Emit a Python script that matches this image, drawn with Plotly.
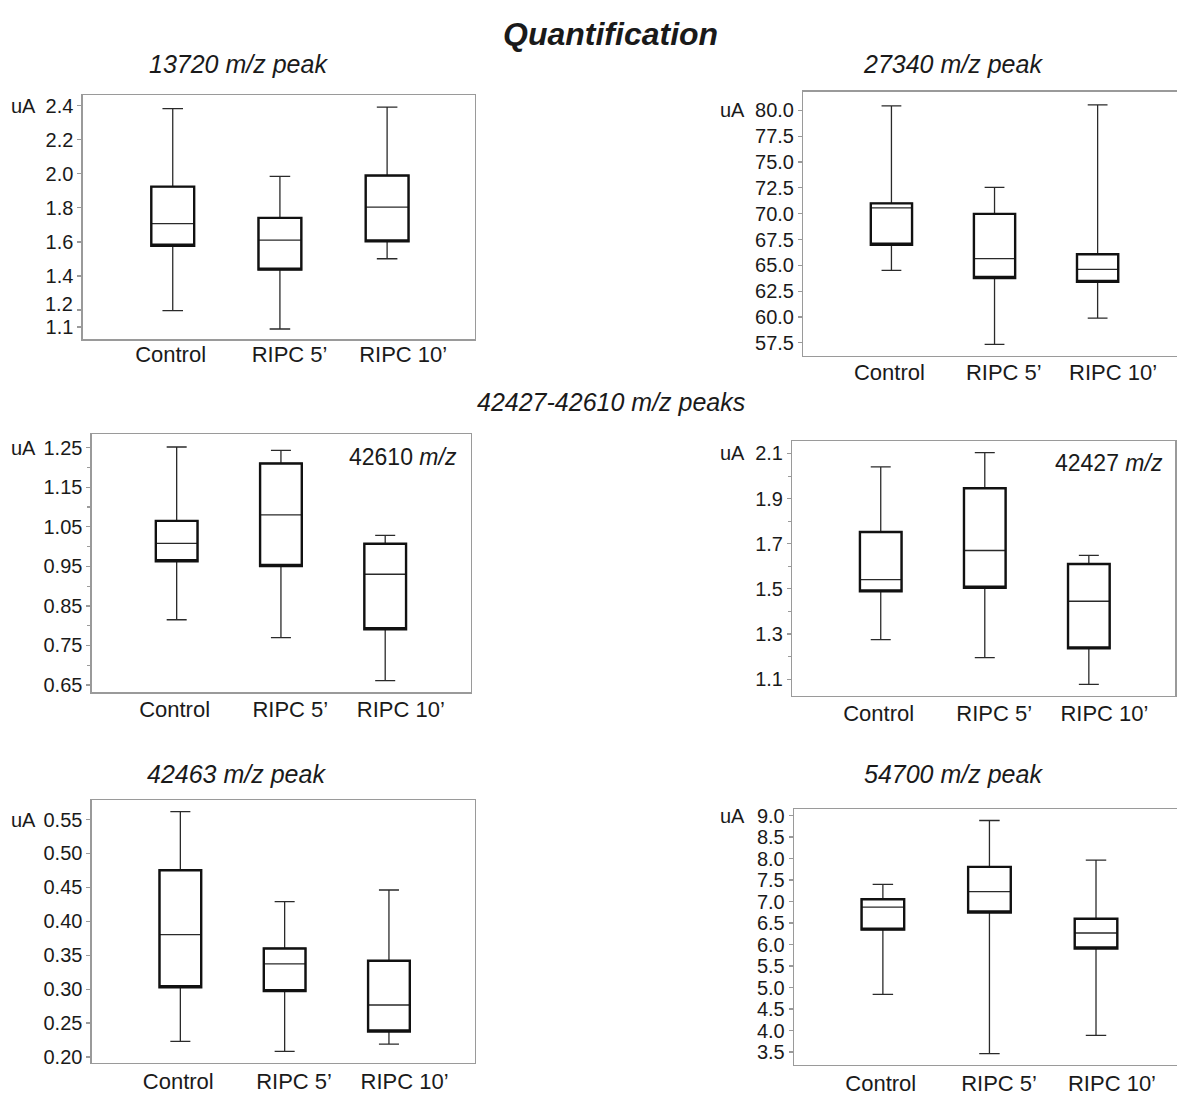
import plotly.graph_objects as go

# ---------------- data ----------------
CATEGORIES = ["Control", "RIPC 5\u2019", "RIPC 10\u2019"]

# 13720 m/z peak
P13720_LOW = [1.196, 1.088, 1.501]
P13720_Q1 = [1.577, 1.437, 1.603]
P13720_MED = [1.708, 1.611, 1.805]
P13720_Q3 = [1.925, 1.741, 1.990]
P13720_HIGH = [2.383, 1.985, 2.392]
P13720_TICKS = [1.1, 1.2, 1.4, 1.6, 1.8, 2.0, 2.2, 2.4]

# 27340 m/z peak
P27340_LOW = [64.51, 57.35, 59.90]
P27340_Q1 = [67.0, 63.78, 63.40]
P27340_MED = [70.56, 65.66, 64.61]
P27340_Q3 = [71.0, 69.98, 66.08]
P27340_HIGH = [80.44, 72.54, 80.54]
P27340_TICKS = [57.5, 60.0, 62.5, 65.0, 67.5, 70.0, 72.5, 75.0, 77.5, 80.0]

# 42610 m/z
P42610_LOW = [0.815, 0.770, 0.661]
P42610_Q1 = [0.963, 0.951, 0.791]
P42610_MED = [1.008, 1.080, 0.930]
P42610_Q3 = [1.065, 1.210, 1.007]
P42610_HIGH = [1.2515, 1.243, 1.028]
P42610_TICKS = [0.65, 0.75, 0.85, 0.95, 1.05, 1.15, 1.25]
P42610_MINOR = [0.70, 0.80, 0.90, 1.00, 1.10, 1.20]

# 42427 m/z
P42427_LOW = [1.275, 1.195, 1.077]
P42427_Q1 = [1.489, 1.505, 1.236]
P42427_MED = [1.541, 1.670, 1.445]
P42427_Q3 = [1.752, 1.946, 1.610]
P42427_HIGH = [2.041, 2.104, 1.648]
P42427_TICKS = [1.1, 1.3, 1.5, 1.7, 1.9, 2.1]
P42427_MINOR = [1.2, 1.4, 1.6, 1.8, 2.0]

# 42463 m/z peak
P42463_LOW = [0.2230, 0.2083, 0.2190]
P42463_Q1 = [0.3029, 0.2971, 0.2376]
P42463_MED = [0.3804, 0.3374, 0.2766]
P42463_Q3 = [0.4754, 0.3600, 0.3418]
P42463_HIGH = [0.5617, 0.4291, 0.4462]
P42463_TICKS = [0.20, 0.25, 0.30, 0.35, 0.40, 0.45, 0.50, 0.55]

# 54700 m/z peak
P54700_LOW = [4.839, 3.464, 3.886]
P54700_Q1 = [6.347, 6.746, 5.909]
P54700_MED = [6.869, 7.231, 6.269]
P54700_Q3 = [7.053, 7.807, 6.601]
P54700_HIGH = [7.399, 8.885, 7.962]
P54700_TICKS = [3.5, 4.0, 4.5, 5.0, 5.5, 6.0, 6.5, 7.0, 7.5, 8.0, 8.5, 9.0]

# ---------------- layout / style ----------------
W, H = 1177, 1097
FONT = "Liberation Sans, Arial, sans-serif"
FRAME = "#9a9a9a"
INK = "#1a1a1a"
XLABEL_OFFSET = [-0.02, 0.09, 0.15]

panels = [
    dict(low=P13720_LOW, q1=P13720_Q1, med=P13720_MED, q3=P13720_Q3, high=P13720_HIGH,
         ticks=P13720_TICKS, minor=None, fmt="{:.1f}",
         px=(82.7, 475.0), py=(92.0, 338.0), xr=(-0.84, 2.82), yr=(1.028, 2.462),
         right=True, ua_x=38, xstand=-5,
         nudge={1.2: 0.034}),  # label lifted above its tick, as in the original
    dict(low=P27340_LOW, q1=P27340_Q1, med=P27340_MED, q3=P27340_Q3, high=P27340_HIGH,
         ticks=P27340_TICKS, minor=None, fmt="{:.1f}",
         px=(803.3, 1177.0), py=(88.3, 355.0), xr=(-0.855, 2.77), yr=(56.22, 81.82),
         right=False, ua_x=747, xstand=-4, nudge={}),
    dict(low=P42610_LOW, q1=P42610_Q1, med=P42610_MED, q3=P42610_Q3, high=P42610_HIGH,
         ticks=P42610_TICKS, minor=P42610_MINOR, fmt="{:.2f}",
         px=(91.7, 470.7), py=(434.0, 694.0), xr=(-0.815, 2.82), yr=(0.6317, 1.2833),
         right=True, ua_x=38, xstand=-3, nudge={}),
    dict(low=P42427_LOW, q1=P42427_Q1, med=P42427_MED, q3=P42427_Q3, high=P42427_HIGH,
         ticks=P42427_TICKS, minor=P42427_MINOR, fmt="{:.1f}",
         px=(792.3, 1175.2), py=(440.7, 697.3), xr=(-0.85, 2.83), yr=(1.027, 2.155),
         right=True, ua_x=747, xstand=-2, nudge={}),
    dict(low=P42463_LOW, q1=P42463_Q1, med=P42463_MED, q3=P42463_Q3, high=P42463_HIGH,
         ticks=P42463_TICKS, minor=None, fmt="{:.2f}",
         px=(91.7, 475.0), py=(802.7, 1067.3), xr=(-0.85, 2.825), yr=(0.1918, 0.5787),
         right=True, ua_x=38, xstand=-1, nudge={}),
    dict(low=P54700_LOW, q1=P54700_Q1, med=P54700_MED, q3=P54700_Q3, high=P54700_HIGH,
         ticks=P54700_TICKS, minor=None, fmt="{:.1f}",
         px=(794.0, 1177.0), py=(811.7, 1069.3), xr=(-0.834, 2.76), yr=(3.209, 9.152),
         right=False, ua_x=747, xstand=-1, nudge={}),
]

fig = go.Figure()
layout = dict(
    width=W, height=H, margin=dict(l=0, r=0, t=0, b=0),
    paper_bgcolor="white", plot_bgcolor="white",
    showlegend=False, boxmode="overlay",
    font=dict(family=FONT, color=INK, size=20),
)
annotations = []
positions = list(range(len(CATEGORIES)))

for i, p in enumerate(panels, start=1):
    xa = "x" if i == 1 else f"x{i}"
    ya = "y" if i == 1 else f"y{i}"
    # thin trace: whiskers + median
    fig.add_trace(go.Box(
        x=positions, q1=p["q1"], median=p["med"], q3=p["q3"],
        lowerfence=p["low"], upperfence=p["high"],
        xaxis=xa, yaxis=ya, width=0.4, whiskerwidth=0.48,
        line=dict(color="#2a2a2a", width=1.3), fillcolor="white",
        boxpoints=False, hoverinfo="skip",
    ))
    # thick trace: box outline only
    fig.add_trace(go.Box(
        x=positions, q1=p["q1"], median=p["q1"], q3=p["q3"],
        lowerfence=p["q1"], upperfence=p["q3"],
        xaxis=xa, yaxis=ya, width=0.4, whiskerwidth=0,
        line=dict(color="#111111", width=2.4), fillcolor="rgba(0,0,0,0)",
        boxpoints=False, hoverinfo="skip",
    ))
    xdom = [p["px"][0] / W, min(p["px"][1] / W, 1.0)]
    ydom = [1 - p["py"][1] / H, 1 - p["py"][0] / H]
    xkey = "xaxis" if i == 1 else f"xaxis{i}"
    ykey = "yaxis" if i == 1 else f"yaxis{i}"
    layout[xkey] = dict(
        domain=xdom, anchor=ya, range=list(p["xr"]),
        tickmode="array",
        tickvals=[k + XLABEL_OFFSET[k] for k in positions],
        ticktext=CATEGORIES,
        ticks="", showgrid=False, zeroline=False,
        showline=True, linecolor=FRAME, linewidth=1.3, mirror=True,
        tickfont=dict(size=22, color=INK, family=FONT),
        ticklabelstandoff=p["xstand"],
        fixedrange=True,
    )
    ticktext = []
    for v in p["ticks"]:
        if v in p["nudge"]:
            ticktext.append("")
            annotations.append(dict(
                text=p["fmt"].format(v), xref="paper", x=(p["px"][0] - 7.5) / W,
                xanchor="right", yref=ya, y=v + p["nudge"][v], yanchor="middle",
                showarrow=False, font=dict(size=20, color=INK, family=FONT),
            ))
        else:
            ticktext.append(p["fmt"].format(v))
    ydict = dict(
        domain=ydom, anchor=xa, range=list(p["yr"]),
        tickmode="array", tickvals=p["ticks"], ticktext=ticktext,
        ticks="outside", ticklen=4, tickcolor=FRAME, tickwidth=1.2,
        showgrid=False, zeroline=False,
        showline=True, linecolor=FRAME, linewidth=1.3,
        mirror=True if p["right"] else False,
        tickfont=dict(size=20, color=INK, family=FONT),
        fixedrange=True,
    )
    if p["minor"] is not None:
        ydict["minor"] = dict(tickmode="array", tickvals=p["minor"], ticks="outside",
                              ticklen=3, tickcolor=FRAME, tickwidth=1.1, showgrid=False)
    layout[ykey] = ydict
    annotations.append(dict(
        text="uA", xref="paper", x=p["ua_x"] / W, xanchor="right",
        yref=ya, y=p["ticks"][-1], yanchor="middle", showarrow=False,
        font=dict(size=20, color=INK, family=FONT),
    ))

TITLES = [
    ("<b><i>Quantification</i></b>", 610, 30, 32),
    ("<i>13720 m/z peak</i>", 238, 60, 25),
    ("<i>27340 m/z peak</i>", 953, 60, 25),
    ("<i>42427-42610 m/z peaks</i>", 611, 401, 25),
    ("<i>42463 m/z peak</i>", 236, 776, 25),
    ("<i>54700 m/z peak</i>", 953, 776, 25),
    ("42610 <i>m/z</i>", 403, 457, 23),
    ("42427 <i>m/z</i>", 1109, 463, 23),
]
for text, x, y, size in TITLES:
    annotations.append(dict(
        text=text, xref="paper", yref="paper", x=x / W, y=1 - y / H,
        xanchor="center", yanchor="middle", showarrow=False,
        font=dict(size=size, color=INK, family=FONT),
    ))

layout["annotations"] = annotations
fig.update_layout(**layout)

fig.write_html(
    "out.html",
    include_plotlyjs=True,
    config={"displayModeBar": False, "staticPlot": True},
    post_script="document.body.style.margin='0px';document.body.style.overflow='hidden';",
)
